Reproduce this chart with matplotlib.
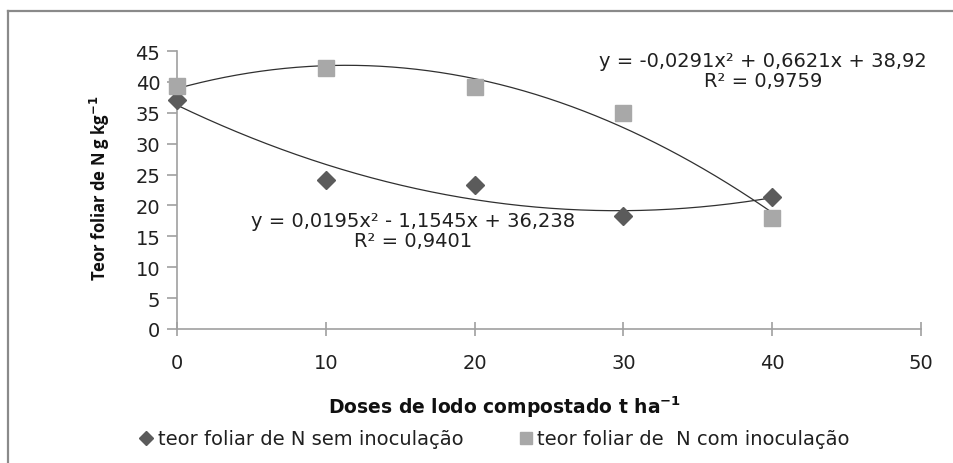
import matplotlib.pyplot as plt
import numpy as np
from matplotlib.lines import Line2D

plt.rcParams['font.family'] = ['DejaVu Sans']

# data
doses = [0, 10, 20, 30, 40]
sem_inoc = [37.0, 24.2, 23.3, 18.3, 21.3]
com_inoc = [39.3, 42.2, 39.1, 35.0, 18.0]

# trend line coefficients printed on the chart
coef_sem = [0.0195, -1.1545, 36.238]
coef_com = [-0.0291, 0.6621, 38.92]

eq_sem = "y = 0,0195x\u00b2 - 1,1545x + 36,238\nR\u00b2 = 0,9401"
eq_com = "y = -0,0291x\u00b2 + 0,6621x + 38,92\nR\u00b2 = 0,9759"

label_sem = "teor foliar de N sem inoculação"
label_com = "teor foliar de  N com inoculação"

dark = '#5b5b5b'
light = '#a8a8a8'
axis_col = '#a0a0a0'
txt = '#202020'
fs = 14

fig = plt.figure(figsize=(9.54, 4.64), dpi=100)
ax = fig.add_axes([0.1855, 0.2888, 0.7799, 0.5991])

# trend lines
xs = np.linspace(0, 40, 200)
ax.plot(xs, np.polyval(coef_com, xs), color='#303030', lw=0.9, zorder=2)
ax.plot(xs, np.polyval(coef_sem, xs), color='#303030', lw=0.9, zorder=2)

# markers
ax.plot(doses, sem_inoc, ls='none', marker='D', ms=9.5, color=dark, mec=dark, zorder=3,
        clip_on=False)
ax.plot(doses, com_inoc, ls='none', marker='s', ms=11, color=light, mec=light, zorder=3,
        clip_on=False)

ax.set_xlim(0, 50)
ax.set_ylim(0, 45)
ax.set_xticks(np.arange(0, 51, 10))
ax.set_yticks(np.arange(0, 46, 5))

for s in ['top', 'right']:
    ax.spines[s].set_visible(False)
for s in ['left', 'bottom']:
    ax.spines[s].set_color(axis_col)
    ax.spines[s].set_linewidth(1.2)

ax.tick_params(axis='y', direction='out', length=7, width=1.2, color=axis_col,
               labelsize=fs, pad=5, labelcolor=txt)
ax.tick_params(axis='x', direction='inout', length=10, width=1.2, color=axis_col,
               labelsize=fs, pad=12, labelcolor=txt)

# equation labels
ax.text(0.317, 0.354, eq_sem, transform=ax.transAxes, ha='center', va='center',
        fontsize=fs, color=txt, linespacing=1.1)
ax.text(0.788, 0.93, eq_com, transform=ax.transAxes, ha='center', va='center',
        fontsize=fs, color=txt, linespacing=1.1)

# axis titles
fig.text(0.105, 0.595, "Teor foliar de N g kg$^{\\mathbf{-1}}$", rotation=90,
         ha='center', va='center', fontsize=12, fontweight='bold', color='#101010',
         family='Open Sans')
fig.text(0.529, 0.123, "Doses de lodo compostado t ha$^{\\mathbf{-1}}$",
         ha='center', va='center', fontsize=13.5, fontweight='bold', color='#101010')

# legend
handles = [Line2D([], [], ls='none', marker='D', ms=7, color=dark),
           Line2D([], [], ls='none', marker='s', ms=9, color=light)]
fig.legend(handles, [label_sem, label_com], loc='center', bbox_to_anchor=(0.517, 0.052),
           ncol=2, frameon=False, fontsize=fs, handletextpad=0.1, columnspacing=2.7,
           handlelength=1.0, labelcolor=txt)

# outer frame (top and left only visible)
fig.add_artist(Line2D([8 / 954, 1], [1 - 12 / 464, 1 - 12 / 464], color='#8a8a8a', lw=1.6,
                      transform=fig.transFigure))
fig.add_artist(Line2D([8 / 954, 8 / 954], [0, 1 - 12 / 464], color='#8a8a8a', lw=1.6,
                      transform=fig.transFigure))

fig.savefig('out.png', dpi=100, facecolor='white')
